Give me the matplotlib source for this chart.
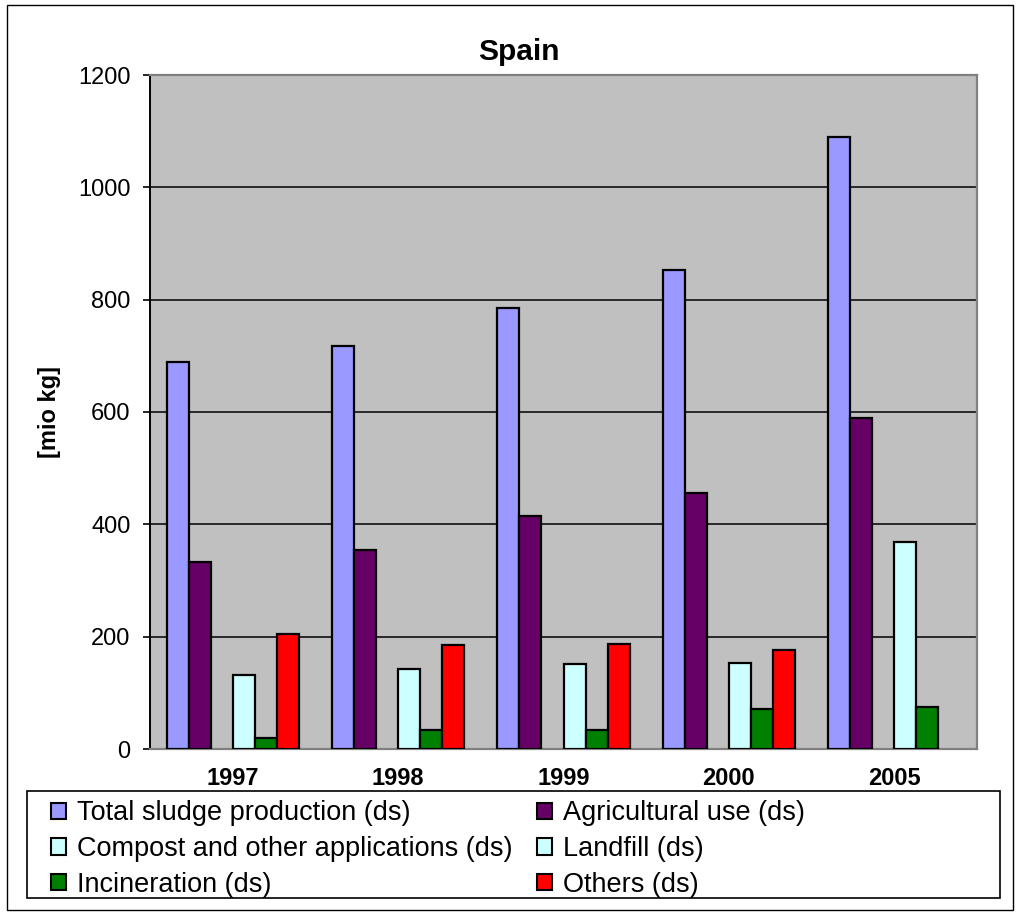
import numpy as np
import matplotlib
matplotlib.use("Agg")
import matplotlib.pyplot as plt
from matplotlib.patches import Patch, Rectangle

plt.rcParams['font.family'] = ['Liberation Sans', 'DejaVu Sans']

# Sludge disposal routes in Spain, million kg dry solids
years = ["1997", "1998", "1999", "2000", "2005"]
total_production = [689, 717, 786, 853, 1089]
agricultural_use = [333, 355, 414, 455, 589]
compost_other = [0, 0, 0, 0, 0]
landfill = [132, 143, 151, 154, 369]
incineration = [20, 33, 34, 71, 75]
others = [205, 185, 187, 176, 0]

series_names = [
    "Total sludge production (ds)",
    "Agricultural use (ds)",
    "Compost and other applications (ds)",
    "Landfill (ds)",
    "Incineration (ds)",
    "Others (ds)",
]
series_values = [total_production, agricultural_use, compost_other,
                 landfill, incineration, others]
series_colors = ["#9999FF", "#660066", "#CCFFFF", "#CCFFFF", "#008000", "#FF0000"]

W, H = 1020, 915
fig = plt.figure(figsize=(W / 100, H / 100), dpi=100)

ax = fig.add_axes([150 / W, 1 - 749 / H, (977 - 150) / W, (749 - 75) / H])
ax.set_facecolor("#C0C0C0")

n = len(series_values)
bar_w = 1.0 / (n + 1.5)
x = np.arange(len(years))
for i, (vals, col) in enumerate(zip(series_values, series_colors)):
    edges = ["black" if v > 0 else "none" for v in vals]
    ax.bar(x + (i - (n - 1) / 2) * bar_w, vals, width=bar_w, color=col,
           edgecolor=edges, linewidth=1.6, zorder=3)

ax.set_xlim(-0.5, len(years) - 0.5)
ax.set_ylim(0, 1200)
ax.set_yticks(np.arange(0, 1201, 200))
ax.yaxis.grid(True, color="black", linewidth=1.1, zorder=1)
ax.set_axisbelow(True)

ax.set_xticks(x)
ax.set_xticklabels(years, fontsize=17, fontweight="bold")
ax.tick_params(axis="x", length=0, pad=13)
ax.tick_params(axis="y", length=5, width=1.2, pad=9, labelsize=17, direction="out")

ax.spines["left"].set_color("black")
ax.spines["left"].set_linewidth(1.4)
for side in ("top", "right", "bottom"):
    ax.spines[side].set_color("#808080")
    ax.spines[side].set_linewidth(1.6)

fig.text(50 / W, 1 - 412 / H, "[mio kg]", fontsize=17, fontweight="bold",
         rotation=90, ha="center", va="center")
fig.text(519 / W, 1 - 52 / H, "Spain", fontsize=21.5, fontweight="bold",
         ha="center", va="center")

# Legend: row-wise order across two columns
order = [0, 2, 4, 1, 3, 5]
handles = [Patch(facecolor=series_colors[k], edgecolor="black", linewidth=1.5)
           for k in order]
labels = [series_names[k] for k in order]
fig.legend(handles, labels, ncol=2, loc="upper left",
           bbox_to_anchor=(46 / W, 1 - 795 / H), frameon=False,
           fontsize=19.5, handlelength=0.55, handleheight=0.55,
           handletextpad=0.4, columnspacing=0.9, labelspacing=0.36,
           borderaxespad=0, borderpad=0.2)

fig.patches.append(Rectangle((27 / W, 1 - 898 / H), (1000 - 27) / W, (898 - 791) / H,
                             transform=fig.transFigure, fill=False,
                             edgecolor="black", linewidth=1.2))
fig.patches.append(Rectangle((7 / W, 1 - 910 / H), (1013 - 7) / W, (910 - 5) / H,
                             transform=fig.transFigure, fill=False,
                             edgecolor="black", linewidth=1.0))

fig.savefig("out.png", dpi=100)
